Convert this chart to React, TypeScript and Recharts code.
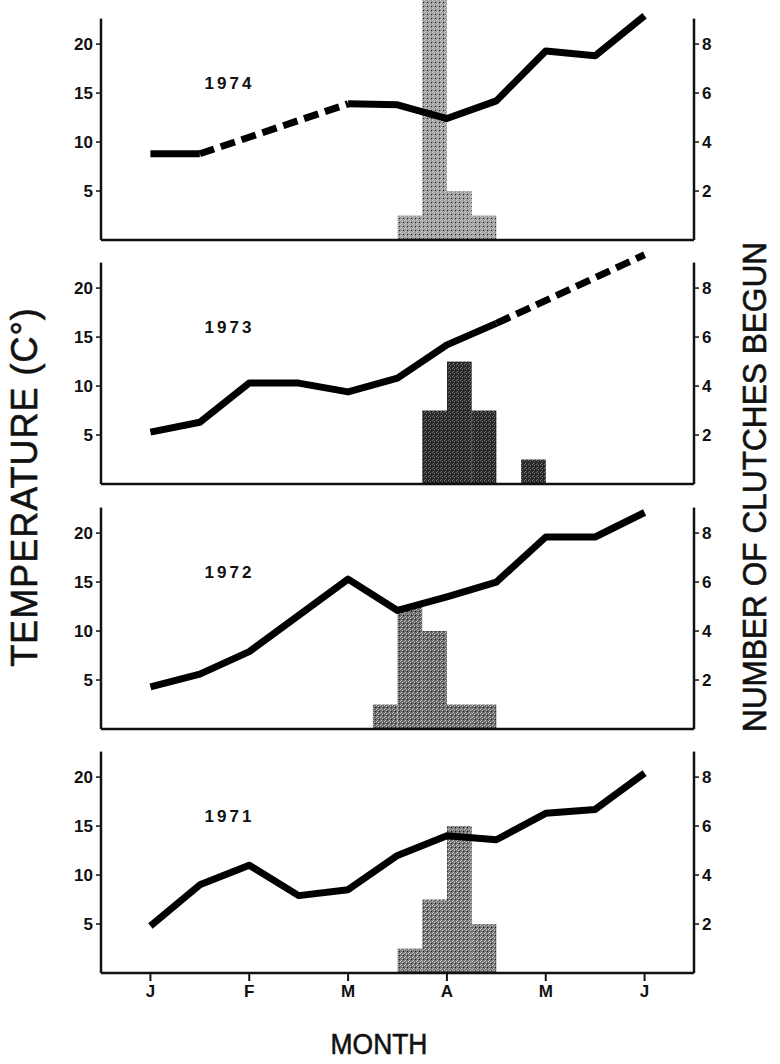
import {
  ComposedChart,
  Line,
  Bar,
  XAxis,
  YAxis,
  ReferenceLine,
  ReferenceDot,
} from "recharts";

// x positions in months (J = 0 ... J = 5), half-month temperature readings
const halfMonths = [0, 0.5, 1, 1.5, 2, 2.5, 3, 3.5, 4, 4.5, 5];
const monthTicks = [0, 1, 2, 3, 4, 5];
const monthLabels = ["J", "F", "M", "A", "M", "J"];
// weekly bins of clutch starts (centres, in months)
const binCenters = [2.375, 2.625, 2.875, 3.125, 3.375, 3.625, 3.875];

const tempTicks = [5, 10, 15, 20];
const clutchTicks = [2, 4, 6, 8];

const solid1974 = [8.8, 8.8, null, null, 13.9, 13.8, 12.4, 14.2, 19.3, 18.8, 22.9];
const dashed1974 = [null, 8.8, null, null, 13.9, null, null, null, null, null, null];
const clutches1974 = [0, 1, 10, 2, 1, 0, 0];

const solid1973 = [5.3, 6.3, 10.3, 10.3, 9.4, 10.8, 14.2, 16.4, null, null, null];
const dashed1973 = [null, null, null, null, null, null, null, 16.4, null, null, 23.4];
const clutches1973 = [0, 0, 3, 5, 3, 0, 1];

const solid1972 = [4.3, 5.6, 7.9, 11.6, 15.3, 12.1, 13.5, 15.0, 19.6, 19.6, 22.1];
const dashed1972 = [null, null, null, null, null, null, null, null, null, null, null];
const clutches1972 = [1, 5, 4, 1, 1, 0, 0];

const solid1971 = [4.8, 9.0, 11.0, 7.9, 8.5, 12.0, 14.0, 13.6, 16.3, 16.7, 20.4];
const dashed1971 = [null, null, null, null, null, null, null, null, null, null, null];
const clutches1971 = [0, 1, 3, 6, 2, 0, 0];

const FONT = '"Liberation Sans", Arial, Helvetica, sans-serif';
const W = 780;
const LEFT_W = 101;
const RIGHT_W = 86;
const PLOT_W = W - LEFT_W - RIGHT_W;
const PLOT_H = 240;
const AXIS_TOP = 22.6;
const BIN_W = (PLOT_W / 6) * 0.25;

type Row = { m: number; [k: string]: number | null };

function buildRows(solid: (number | null)[], dashed: (number | null)[], clutches: number[]) {
  // split the solid line into unbroken runs so gaps stay gaps
  const runs: number[][] = [];
  let cur: number[] = [];
  solid.forEach((v, i) => {
    if (v == null) {
      if (cur.length) runs.push(cur);
      cur = [];
    } else cur.push(i);
  });
  if (cur.length) runs.push(cur);

  const rows: Row[] = halfMonths.map((m, i) => {
    const r: Row = { m, d: dashed[i] };
    runs.forEach((run, k) => {
      r["s" + k] = run.includes(i) ? solid[i] : null;
    });
    return r;
  });
  binCenters.forEach((m, i) => {
    rows.push({ m, c: clutches[i] > 0 ? clutches[i] : null });
  });
  rows.sort((a, b) => a.m - b.m);
  return { rows, runCount: runs.length };
}

const tickStyle = { fontSize: 17, fontWeight: 700, fill: "#111", fontFamily: FONT };

// histogram bar: full weekly bin width, centred on the bin
const BinShape = (props: any) => {
  const { x, y, width, height, fill } = props;
  if (!height || height <= 0) return null;
  const cx = x + width / 2;
  return <rect x={cx - BIN_W / 2} y={y} width={BIN_W} height={height} fill={fill} />;
};

function Panel({
  year,
  top,
  solid,
  dashed,
  clutches,
  base,
  grain,
  last,
}: {
  year: string;
  top: number;
  solid: (number | null)[];
  dashed: (number | null)[];
  clutches: number[];
  base: string;
  grain: string;
  last?: boolean;
}) {
  const { rows, runCount } = buildRows(solid, dashed, clutches);
  const xH = last ? 40 : 4;
  const pid = "grain" + year;
  return (
    <div style={{ position: "absolute", left: 0, top }}>
      <ComposedChart
        width={W}
        height={PLOT_H + xH}
        data={rows}
        margin={{ top: 0, right: 0, bottom: 0, left: 0 }}
      >
        <defs>
          <pattern id={pid} width="4" height="4" patternUnits="userSpaceOnUse">
            <rect width="4" height="4" fill={base} />
            <rect x="0" y="0" width="1" height="1" fill={grain} />
            <rect x="2" y="1" width="1" height="1" fill={grain} />
            <rect x="1" y="3" width="1" height="1" fill={grain} />
            <rect x="3" y="2" width="1" height="1" fill="#222" />
          </pattern>
        </defs>
        <XAxis
          dataKey="m"
          type="number"
          domain={[-0.5, 5.5]}
          ticks={monthTicks}
          tickFormatter={(v: number) => monthLabels[v]}
          height={xH}
          tick={last ? tickStyle : false}
          tickLine={last ? { stroke: "#111", strokeWidth: 2 } : false}
          tickSize={8}
          tickMargin={4}
          axisLine={{ stroke: "#111", strokeWidth: 2.5 }}
          allowDataOverflow
        />
        <YAxis
          yAxisId="t"
          orientation="left"
          width={LEFT_W}
          domain={[0, 24.5]}
          ticks={tempTicks}
          allowDataOverflow
          axisLine={false}
          tickLine={{ stroke: "#111", strokeWidth: 1.5 }}
          tickSize={5}
          tickMargin={3}
          tick={tickStyle}
        />
        <YAxis
          yAxisId="c"
          orientation="right"
          width={RIGHT_W}
          domain={[0, 9.8]}
          ticks={clutchTicks}
          allowDataOverflow
          axisLine={false}
          tickLine={{ stroke: "#111", strokeWidth: 1.5 }}
          tickSize={5}
          tickMargin={3}
          tick={tickStyle}
        />
        <ReferenceLine
          yAxisId="t"
          segment={[
            { x: -0.5, y: 0 },
            { x: -0.5, y: AXIS_TOP },
          ]}
          stroke="#111"
          strokeWidth={2.5}
        />
        <ReferenceLine
          yAxisId="t"
          segment={[
            { x: 5.5, y: 0 },
            { x: 5.5, y: AXIS_TOP },
          ]}
          stroke="#111"
          strokeWidth={2.5}
        />
        <Bar
          yAxisId="c"
          dataKey="c"
          fill={`url(#${pid})`}
          shape={BinShape}
          isAnimationActive={false}
        />
        {Array.from({ length: runCount }, (_, k) => (
          <Line
            key={k}
            yAxisId="t"
            dataKey={"s" + k}
            stroke="#000"
            strokeWidth={7}
            strokeLinejoin="round"
            dot={false}
            connectNulls
            isAnimationActive={false}
          />
        ))}
        <Line
          yAxisId="t"
          dataKey="d"
          stroke="#000"
          strokeWidth={7}
          strokeDasharray="15 7"
          dot={false}
          connectNulls
          isAnimationActive={false}
        />
        <ReferenceDot
          yAxisId="t"
          x={0.8}
          y={16}
          r={0}
          fill="none"
          stroke="none"
          label={{
            value: year,
            position: "center",
            style: { fontSize: 17, fontWeight: 700, fill: "#111", fontFamily: FONT, letterSpacing: 3 },
          }}
        />
      </ComposedChart>
    </div>
  );
}

const titleStyle = {
  position: "absolute" as const,
  whiteSpace: "nowrap" as const,
  color: "#111",
  lineHeight: 1,
  WebkitTextStroke: "0.6px #111",
};

export default function App() {
  return (
    <div
      style={{
        position: "absolute",
        left: 0,
        top: 0,
        width: W,
        height: 1064,
        background: "#fff",
        fontFamily: FONT,
        overflow: "hidden",
      }}
    >
      <Panel year="1974" top={0} solid={solid1974} dashed={dashed1974} clutches={clutches1974} base="#9a9a9a" grain="#d8d8d8" />
      <Panel year="1973" top={244} solid={solid1973} dashed={dashed1973} clutches={clutches1973} base="#2a2a2a" grain="#777" />
      <Panel year="1972" top={489} solid={solid1972} dashed={dashed1972} clutches={clutches1972} base="#6a6a6a" grain="#bdbdbd" />
      <Panel year="1971" top={733} solid={solid1971} dashed={dashed1971} clutches={clutches1971} base="#777" grain="#c8c8c8" last />
      <div
        style={{
          ...titleStyle,
          left: 25,
          top: 487,
          fontSize: 36,
          letterSpacing: 1,
          transform: "translate(-50%, -50%) rotate(-90deg)",
        }}
      >
        TEMPERATURE (C°)
      </div>
      <div
        style={{
          ...titleStyle,
          left: 754,
          top: 487,
          fontSize: 34,
          transform: "translate(-50%, -50%) rotate(-90deg) scaleX(0.93)",
        }}
      >
        NUMBER OF CLUTCHES BEGUN
      </div>
      <div
        style={{
          ...titleStyle,
          left: 379,
          top: 1044,
          fontSize: 30,
          transform: "translate(-50%, -50%) scaleX(0.88)",
        }}
      >
        MONTH
      </div>
    </div>
  );
}
